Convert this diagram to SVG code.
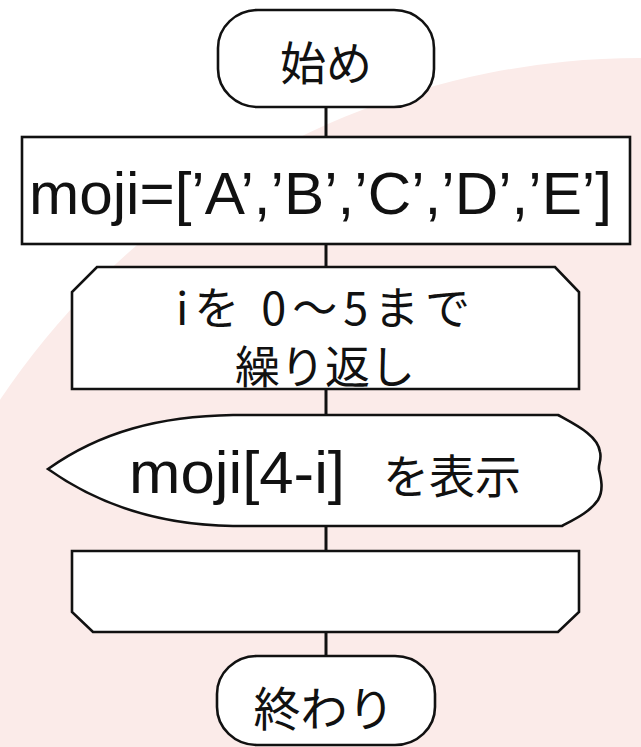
<svg xmlns="http://www.w3.org/2000/svg" width="641" height="747" viewBox="0 0 641 747">
<style>
.shape{fill:#fff;stroke:#111;stroke-width:2.6;stroke-linejoin:miter}
.conn{stroke:#111;stroke-width:3;fill:none}
.jp{font-family:"Noto Sans CJK JP","Noto Sans CJK SC",sans-serif;fill:#111}
.lat{font-family:"Liberation Sans",Arial,sans-serif;fill:#111}
</style>
<rect x="0" y="0" width="641" height="747" fill="#fff"/>
<circle cx="640" cy="828" r="770" fill="#fbebe9"/>
<g id="connectors">
<line class="conn" x1="326" y1="107" x2="326" y2="137"/>
<line class="conn" x1="326" y1="244" x2="326" y2="267"/>
<line class="conn" x1="326" y1="389" x2="326" y2="415"/>
<line class="conn" x1="326" y1="526" x2="326" y2="551"/>
<line class="conn" x1="326" y1="632" x2="326" y2="656"/>
</g>
<g id="start">
<rect class="shape" x="218" y="10" width="216" height="97" rx="40" ry="38"/>
<text class="jp" x="326" y="80" font-size="46" text-anchor="middle">始め</text>
</g>
<g id="assign">
<rect class="shape" x="22" y="137" width="608" height="107"/>
<text class="lat" x="29" y="214" font-size="59" textLength="583" lengthAdjust="spacingAndGlyphs">moji=[’A’,’B’,’C’,’D’,’E’]</text>
</g>
<g id="loop-start">
<path class="shape" d="M97,267 L555,267 L579,292 L579,389 L72,389 L72,292 Z"/>
<text class="jp" x="176" y="325" font-size="45" textLength="294" lengthAdjust="spacing">iを 0～5まで</text>
<text class="jp" x="325" y="384" font-size="45" text-anchor="middle">繰り返し</text>
</g>
<g id="display">
<path class="shape" d="M48,469 C100,432 160,416 233,415 L558,415 C578,426 598,436 600,452 C602,460 598,464 599,470 C601,478 604,490 598,500 C590,512 575,519 562,526 L233,526 C160,525 100,506 48,469 Z"/>
<text y="493"><tspan class="lat" x="129" font-size="60" textLength="216" lengthAdjust="spacingAndGlyphs">moji[4-i]</tspan> <tspan class="jp" x="383" font-size="46">を表示</tspan></text>
</g>
<g id="loop-end">
<path class="shape" d="M72,551 L579,551 L579,612 L558,632 L93,632 L72,612 Z"/>
</g>
<g id="end">
<rect class="shape" x="217" y="656" width="218" height="89" rx="40" ry="38"/>
<text class="jp" x="324" y="726" font-size="47" text-anchor="middle">終わり</text>
</g>
</svg>
